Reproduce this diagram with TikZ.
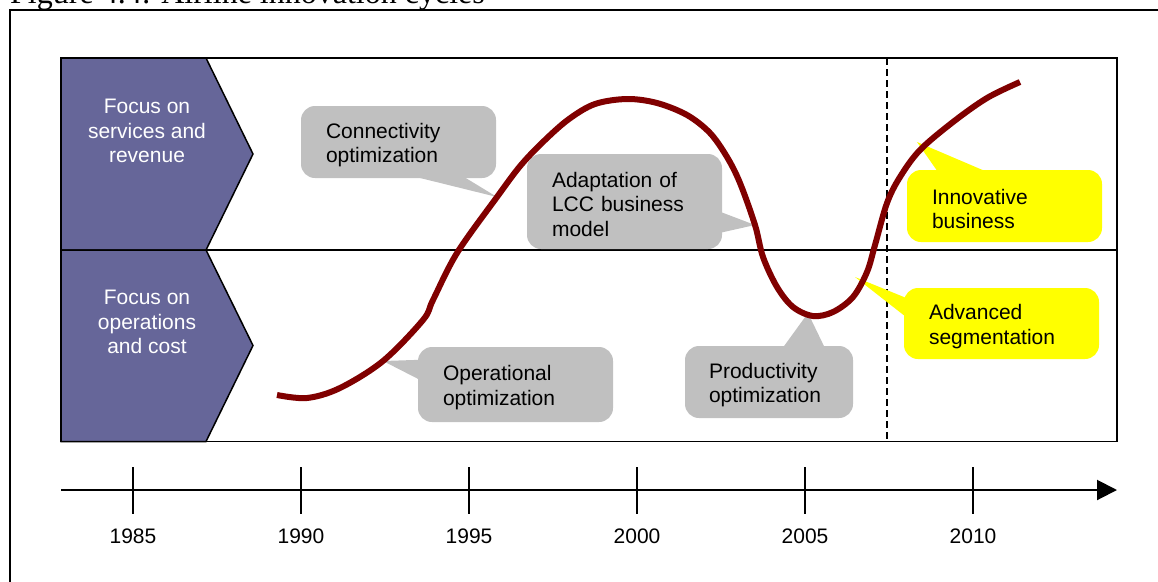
\documentclass[tikz,border=0pt]{standalone}
\usepackage{fontspec}
\setmainfont{Liberation Sans}
\newfontfamily\titlefont{Liberation Serif}
\usetikzlibrary{arrows.meta}
\definecolor{chevron}{RGB}{102,102,153}
\definecolor{bubblegray}{RGB}{192,192,192}
\definecolor{curvered}{RGB}{128,0,0}
\definecolor{hotyellow}{RGB}{255,255,0}
\tikzset{
	bubble/.style={fill=bubblegray, rounded corners=14pt, text width=145pt, minimum width=195pt, minimum height=72pt, inner xsep=25pt, inner ysep=0pt, text height=21pt, align=left, font=\fontsize{21}{24.5}\selectfont},
	hotbubble/.style={bubble, fill=hotyellow},
	focus/.style={text=white, align=center, font=\fontsize{21}{24.5}\selectfont},
	year/.style={font=\fontsize{21}{24}\selectfont},
}
\begin{document}
\begin{tikzpicture}[x=1pt, y=-1pt]
		\useasboundingbox (0,0) rectangle (1158,581);
		\clip (0,0) rectangle (1158,581);
		
		\node[anchor=base west, inner sep=0pt, font=\titlefont\fontsize{32}{36}\selectfont] (title) at (10,3.5) {Figure 4.4: Airline innovation cycles};
		\draw[line width=2pt] (9.5,10) rectangle (1180,600);
		
		\draw[line width=1.5pt] (61,58) rectangle (1117,441.5);
		\draw[line width=1.5pt] (61,250) -- (1117,250);
		\draw[line width=1.5pt, dash pattern=on 7pt off 4pt] (887,58) -- (887,441.5);
		\filldraw[fill=chevron, line width=1.5pt] (61,58) -- (206,58) -- (253,154) -- (206,250) -- (61,250) -- cycle;
		\filldraw[fill=chevron, line width=1.5pt] (61,250) -- (206,250) -- (253,345.5) -- (206,441.5) -- (61,441.5) -- cycle;
		\node[focus] (svc) at (147,131) {Focus on\\services and\\revenue};
		\node[focus] (ops) at (147,322) {Focus on\\operations\\and cost};
		
		\coordinate (conntip) at (497,197);
		\coordinate (opertip) at (383,361);
		\coordinate (adapttip) at (755,225);
		\coordinate (prodtip) at (808,313);
		\coordinate (innotip) at (917,142);
		\coordinate (segtip) at (855,277);
		
		\node[bubble] (conn) at (398.5,142) {Connectivity\\optimization};
		\fill[bubblegray] ([xshift=112pt,yshift=2pt]conn.south west) -- (conntip) -- ([xshift=162pt,yshift=2pt]conn.south west) -- cycle;
		\node[bubble, minimum height=75pt] (oper) at (515.5,384.5) {Operational\\optimization};
		\fill[bubblegray] ([xshift=2pt,yshift=-13pt]oper.north west) -- (opertip) -- ([xshift=2pt,yshift=-33pt]oper.north west) -- cycle;
		\node[bubble, minimum height=95pt] (adapt) at (624.5,201.5) {Adaptation of\\LCC business\\model};
		\fill[bubblegray] ([xshift=-2pt,yshift=-58pt]adapt.north east) -- (adapttip) -- ([xshift=-2pt,yshift=-79pt]adapt.north east) -- cycle;
		\node[bubble, text width=120pt, minimum width=168pt, inner xsep=24pt] (prod) at (769,382) {Productivity\\optimization};
		\fill[bubblegray] ([xshift=98pt,yshift=-2pt]prod.north west) -- (prodtip) -- ([xshift=140pt,yshift=-2pt]prod.north west) -- cycle;
		\node[hotbubble] (inno) at (1004.5,206) {Innovative\\business};
		\fill[hotyellow] ([xshift=31pt,yshift=-2pt]inno.north west) -- (innotip) -- ([xshift=80pt,yshift=-2pt]inno.north west) -- cycle;
		\node[hotbubble, minimum height=71pt] (seg) at (1001.5,323.5) {Advanced\\segmentation};
		\fill[hotyellow] ([xshift=2pt,yshift=-10pt]seg.north west) -- (segtip) -- ([xshift=2pt,yshift=-29pt]seg.north west) -- cycle;
		
		\draw[curvered, line width=6pt] plot[smooth, tension=0.55] coordinates {(277,395) (307,398) (340,388) (383,361) (423,320) (433,300) (457,253) (497,197) (521,165) (545,140) (569,119) (595,104) (627,99) (657,103) (687,115) (710,133) (727,157) (740,183) (755,225) (763,257) (777,287) (793,307) (813,316) (833,312) (853,297) (867,272) (875,245) (887,203) (900,177) (920,150) (953,122) (987,98) (1020,82)};
		
		\coordinate (axisstart) at (61,490);
		\coordinate (axisend) at (1117,490);
		\draw[line width=2pt, -{Triangle[length=20pt,width=20pt]}] (axisstart) -- (axisend);
		\foreach \yr [count=\i from 0] in {1985,1990,...,2010}{
			\draw[line width=2pt] (133+168*\i,467) -- (133+168*\i,514);
			\node[year] (y\yr) at (133+168*\i,536) {\yr};
		}
		
	\end{tikzpicture}
\end{document}
